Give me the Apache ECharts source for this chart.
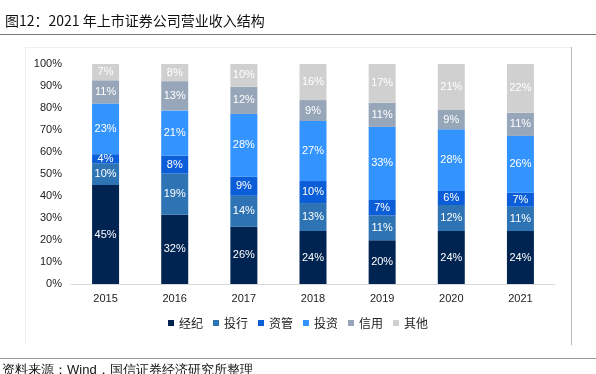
<!DOCTYPE html>
<html><head><meta charset="utf-8">
<script src="https://cdn.jsdelivr.net/npm/echarts@6/dist/echarts.min.js"></script>
<style>html,body{margin:0;padding:0;background:#fff}#c{width:596px;height:374px}</style>
</head><body><div id="c"></div>
<script>
var categories = ['2015','2016','2017','2018','2019','2020','2021'];
var brokerage = [45, 31.5, 26, 24.1, 19.9, 24.1, 24.1];
var ibanking  = [9.9, 18.7, 14.1, 12.7, 11.3, 11.8, 11];
var assetMgmt = [4.1, 8.1, 8.7, 10, 7, 6.4, 6.4];
var invest    = [23, 20.6, 28.5, 27.3, 33.2, 28, 25.8];
var credit    = [10.6, 13.3, 12.4, 9.5, 11, 8.8, 10.6];
var other     = [7.4, 7.8, 10.3, 16.4, 17.6, 20.9, 22.1];
var labelsRounded = {
  '经纪':[45,32,26,24,20,24,24],
  '投行':[10,19,14,13,11,12,11],
  '资管':[4,8,9,10,7,6,7],
  '投资':[23,21,28,27,33,28,26],
  '信用':[11,13,12,9,11,9,11],
  '其他':[7,8,10,16,17,21,22]
};

var names = ['经纪','投行','资管','投资','信用','其他'];
var datas = [brokerage, ibanking, assetMgmt, invest, credit, other];
var colors = ['#002452','#2e74b5','#0b5ed7','#3393ff','#97a6b8','#d0d0d0'];

var series = names.map(function(n, i){
  return {
    name: n, type: 'bar', stack: 'total', barWidth: 27,
    data: datas[i],
    itemStyle: {color: colors[i]},
    label: {show: true, position: 'inside', color: '#fff', fontSize: 11,
      fontFamily: 'Liberation Sans, Arial, sans-serif',
      formatter: function(p){ return labelsRounded[n][p.dataIndex] + '%'; }}
  };
});

var chart = echarts.init(document.getElementById('c'), null, {renderer:'canvas'});
chart.setOption({
  animation: false,
  backgroundColor: '#fff',
  title: {text: '图12：2021 年上市证券公司营业收入结构', left: 0, top: 9,
    textStyle: {fontSize: 14, fontWeight: 'normal', color: '#111', fontFamily: 'Noto Sans CJK SC'}},
  graphic: [
    {type:'line', shape:{x1:0,y1:34.5,x2:596,y2:34.5}, style:{stroke:'#777', lineWidth:1}},
    {type:'line', shape:{x1:25.5,y1:47,x2:25.5,y2:345}, style:{stroke:'#f0f0f0', lineWidth:1}},
    {type:'line', shape:{x1:25.5,y1:47.5,x2:571,y2:47.5}, style:{stroke:'#f0f0f0', lineWidth:1}},
    {type:'line', shape:{x1:571.5,y1:47,x2:571.5,y2:345}, style:{stroke:'#b8b8b8', lineWidth:1}},
    {type:'line', shape:{x1:0,y1:358.5,x2:596,y2:358.5}, style:{stroke:'#999', lineWidth:1}},
    {type:'text', left: 2, top: 364, style:{text:'资料来源：Wind，国信证券经济研究所整理', fontSize: 13, fill:'#111', font: '13px "Noto Sans CJK SC"'}}
  ],
  legend: {data: names, bottom: 40, left: 'center', itemWidth: 6, itemHeight: 6, itemGap: 10,
    icon: 'rect', textStyle: {fontSize: 12, color: '#222', fontFamily: 'Noto Sans CJK SC'}},
  grid: {left: 71, right: 41, top: 64, bottom: 90},
  xAxis: {type: 'category', data: categories,
    axisLine: {lineStyle: {color: '#d9d9d9'}}, axisTick: {show: false},
    axisLabel: {color: '#222', fontSize: 11, margin: 9, fontFamily: 'Liberation Sans, Arial, sans-serif'}},
  yAxis: {type: 'value', min: 0, max: 100, interval: 10,
    splitLine: {show: false}, axisLine: {show: false}, axisTick: {show: false},
    axisLabel: {color: '#222', fontSize: 11, margin: 9, fontFamily: 'Liberation Sans, Arial, sans-serif',
      formatter: function(v){ return v + '%'; }}},
  series: series
});
</script></body></html>
